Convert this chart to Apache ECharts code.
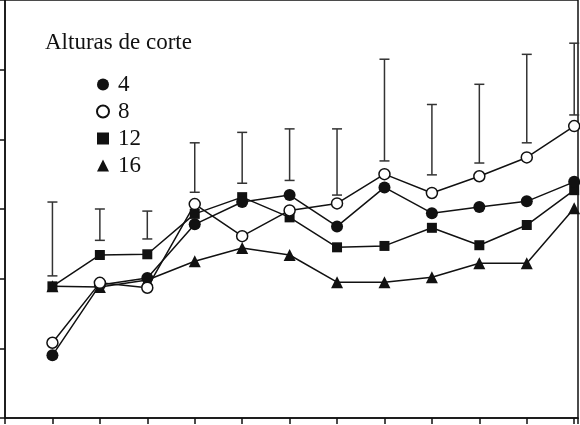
<!DOCTYPE html>
<html>
<head>
<meta charset="utf-8">
<script src="https://cdn.jsdelivr.net/npm/echarts@6/dist/echarts.min.js"></script>
<style>html,body{margin:0;padding:0;background:#fff}#c{width:580px;height:425px}</style>
</head>
<body>
<div id="c"></div>
<script>
const xValues = [1,2,3,4,5,6,7,8,9,10,11,12];
const seriesNames = ['4','8','12','16'];
const h4  = [0.90,1.91,2.01,2.78,3.10,3.20,2.75,3.31,2.94,3.03,3.11,3.39];
const h8  = [1.08,1.94,1.87,3.07,2.61,2.98,3.08,3.50,3.23,3.47,3.74,4.19];
const h12 = [1.89,2.34,2.35,2.93,3.17,2.88,2.45,2.47,2.73,2.48,2.77,3.27];
const h16 = [1.89,1.88,1.98,2.25,2.44,2.34,1.95,1.95,2.02,2.22,2.22,3.01];
const barLow  = [2.04,2.55,2.57,3.24,3.37,3.41,3.20,3.69,3.49,3.66,3.95,4.35];
const barHigh = [3.10,3.00,2.97,3.95,4.10,4.15,4.15,5.15,4.50,4.79,5.22,5.38];
const legendTitle = 'Alturas de corte';

const pairs = arr => xValues.map((x,i)=>[x, arr[i]]);
const errData = xValues.map((x,i)=>[x, barLow[i], barHigh[i]]);
const font = '"Liberation Serif","Times New Roman",serif';

function lineSeries(name, data, symbol, size, fill) {
  return {
    name, type:'line', data: pairs(data), symbol, symbolSize:size,
    lineStyle:{color:'#111', width:1.5},
    itemStyle:{color:fill, borderColor:'#111', borderWidth: fill==='#fff'?1.5:0},
    emphasis:{disabled:true}, animation:false, z:3
  };
}

const chart = echarts.init(document.getElementById('c'), null, {renderer:'canvas'});
chart.setOption({
  animation:false,
  backgroundColor:'#fff',
  title:{text:legendTitle, left:40, top:26, textStyle:{fontFamily:font, fontSize:23, fontWeight:'normal', color:'#111'}},
  legend:{
    orient:'vertical', left:91, top:68, itemGap:4, itemWidth:12, itemHeight:12,
    textStyle:{fontFamily:font, fontSize:23, color:'#111', padding:[0,0,0,4]},
    data:[
      {name:'4', icon:'circle', itemStyle:{color:'#111', borderWidth:0}},
      {name:'8', icon:'emptyCircle', itemStyle:{color:'#111', borderColor:'#111', borderWidth:1.5}},
      {name:'12', icon:'rect', itemStyle:{color:'#111', borderWidth:0}},
      {name:'16', icon:'triangle', itemStyle:{color:'#111', borderWidth:0}}
    ]
  },
  grid:{left:5, right:2, top:0, bottom:7, show:true, borderColor:'#111', borderWidth:1.5, backgroundColor:'transparent'},
  xAxis:{type:'value', min:0, max:12.08, interval:1,
    axisLine:{lineStyle:{color:'#111', width:1.5}},
    axisTick:{show:true, inside:false, length:6, lineStyle:{color:'#111', width:1.5}},
    axisLabel:{show:false}, splitLine:{show:false}},
  yAxis:{type:'value', min:0, max:6, interval:1,
    axisLine:{show:true, lineStyle:{color:'#111', width:1.5}},
    axisTick:{show:true, inside:false, length:5, lineStyle:{color:'#111', width:1.5}},
    axisLabel:{show:false}, splitLine:{show:false}},
  series:[
    {
      type:'custom', name:'err', data:errData, z:2, silent:true,
      renderItem:function(params, api){
        const lo = api.coord([api.value(0), api.value(1)]);
        const hi = api.coord([api.value(0), api.value(2)]);
        const w = 5;
        const st = {stroke:'#333', lineWidth:1.5};
        return {type:'group', children:[
          {type:'line', shape:{x1:lo[0], y1:lo[1], x2:hi[0], y2:hi[1]}, style:st},
          {type:'line', shape:{x1:lo[0]-w, y1:lo[1], x2:lo[0]+w, y2:lo[1]}, style:st},
          {type:'line', shape:{x1:hi[0]-w, y1:hi[1], x2:hi[0]+w, y2:hi[1]}, style:st}
        ]};
      }
    },
    lineSeries('16', h16, 'triangle', 12, '#111'),
    lineSeries('12', h12, 'rect', 10, '#111'),
    lineSeries('4', h4, 'circle', 12, '#111'),
    lineSeries('8', h8, 'circle', 11, '#fff')
  ]
});
</script>
</body>
</html>
